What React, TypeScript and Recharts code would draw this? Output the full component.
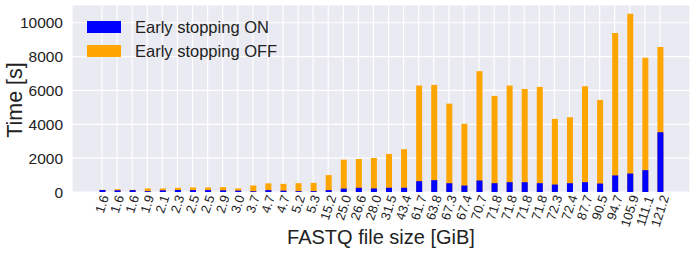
import { BarChart, Bar, XAxis, YAxis, CartesianGrid } from 'recharts';

const sizes = [
  '1.6', '1.6', '1.6', '1.9', '2.1', '2.3', '2.5', '2.5', '2.9', '3.0',
  '3.7', '4.7', '4.7', '5.2', '5.3', '15.2', '25.0', '26.6', '28.0', '31.5',
  '43.4', '61.7', '63.8', '67.3', '67.4', '70.7', '71.8', '71.8', '71.8', '71.8',
  '72.3', '72.4', '87.7', '90.5', '94.7', '105.9', '111.1', '121.2',
];

const timeOff = [
  130, 170, 130, 210, 210, 250, 270, 270, 290, 210,
  380, 510, 480, 520, 540, 1000, 1910, 1950, 2010, 2250,
  2530, 6290, 6330, 5220, 4030, 7140, 5680, 6290, 6090, 6210,
  4320, 4420, 6250, 5440, 9400, 10540, 7930, 8570,
];

const timeOn = [
  120, 100, 110, 50, 100, 120, 110, 110, 100, 80,
  40, 110, 80, 50, 50, 110, 200, 250, 210, 250,
  250, 640, 700, 520, 380, 680, 520, 580, 580, 520,
  440, 520, 580, 500, 980, 1090, 1290, 3530,
];

const yTicks = [0, 2000, 4000, 6000, 8000, 10000];

const data = sizes.map((s, i) => ({ idx: i, size: s, off: timeOff[i], on: timeOn[i] }));

const FONT = '"Liberation Sans", Arial, sans-serif';
const BLUE = '#0000ff';
const ORANGE = '#ffa500';
const TEXT = '#222222';

function SizeTick(props: any) {
  const { x, payload } = props;
  const label = sizes[payload.value] ?? String(payload.value);
  const f = 13;
  let len = 0;
  for (const ch of label) len += ch === '.' ? 0.278 * f : 0.556 * f;
  const ang = (72 * Math.PI) / 180;
  const h = 0.72 * f;
  const vert = len * Math.sin(ang) + h * Math.cos(ang);
  const cy = 194 + vert / 2;
  return (
    <text
      x={x}
      y={cy}
      textAnchor="middle"
      dominantBaseline="central"
      fontSize={f}
      fontFamily={FONT}
      fill={TEXT}
      transform={`rotate(-72, ${x}, ${cy})`}
    >
      {label}
    </text>
  );
}

export default function App() {
  return (
    <div style={{ position: 'absolute', left: 0, top: 0, width: 696, height: 256, background: '#fff' }}>
      <BarChart
        width={696}
        height={256}
        data={data}
        margin={{ top: 5, right: 6, left: 10, bottom: 0 }}
        barGap={-6}
      >
        <CartesianGrid fill="#eaeaf2" stroke="#ffffff" strokeWidth={1.2} />
        <XAxis
          dataKey="idx"
          type="category"
          interval={0}
          padding={{ left: 22.5, right: 22.5 }}
          axisLine={false}
          tickLine={false}
          height={64}
          tick={<SizeTick />}
          label={() => (
            <text x={381} y={244} textAnchor="middle" fontSize={20} fontFamily={FONT} fill={TEXT}>
              FASTQ file size [GiB]
            </text>
          )}
        />
        <YAxis
          type="number"
          domain={[0, 11050]}
          ticks={yTicks}
          interval={0}
          axisLine={false}
          tickLine={false}
          width={62}
          tickMargin={3}
          tick={{ fontSize: 15.5, fontFamily: FONT, fill: TEXT }}
          label={() => (
            <text
              x={15}
              y={100}
              textAnchor="middle"
              dominantBaseline="central"
              fontSize={21.5}
              fontFamily={FONT}
              fill={TEXT}
              transform="rotate(-90, 15, 100)"
            >
              Time [s]
            </text>
          )}
        />
        <Bar dataKey="off" fill={ORANGE} barSize={6} isAnimationActive={false} />
        <Bar dataKey="on" fill={BLUE} barSize={6} isAnimationActive={false} />
      </BarChart>
      <div
        style={{
          position: 'absolute',
          left: 87,
          top: 15,
          fontFamily: FONT,
          fontSize: 16.5,
          color: TEXT,
          lineHeight: '24px',
        }}
      >
        {[
          { name: 'Early stopping ON', color: BLUE },
          { name: 'Early stopping OFF', color: ORANGE },
        ].map((it) => (
          <div key={it.name} style={{ display: 'flex', alignItems: 'center', height: 24 }}>
            <span style={{ display: 'inline-block', width: 34, height: 12, background: it.color, marginRight: 14 }} />
            <span>{it.name}</span>
          </div>
        ))}
      </div>
    </div>
  );
}
